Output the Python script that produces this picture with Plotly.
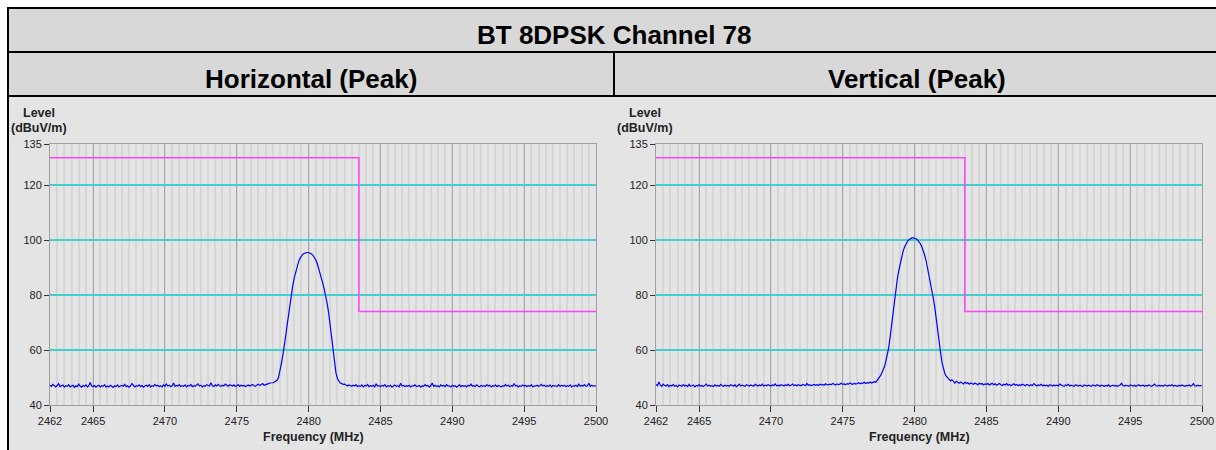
import numpy as np
import plotly.graph_objects as go

# ---------------- data ----------------
title_text = "BT 8DPSK Channel 78"
panel_titles = ["Horizontal (Peak)", "Vertical (Peak)"]

freq_start, freq_stop, freq_step = 2462.0, 2500.0, 0.1
freq = np.round(np.arange(freq_start, freq_stop + 1e-6, freq_step), 1)

x_tickvals = [2462, 2465, 2470, 2475, 2480, 2485, 2490, 2495, 2500]
y_tickvals = [40, 60, 80, 100, 120, 135]

limit_freq = [2462, 2483.5, 2483.5, 2500]
limit_level = [130, 130, 74, 74]

h_level = [
    47.2, 46.8, 47.5, 46.9, 46.6, 47.1, 47.8, 46.7, 46.9, 47.3,
    46.5, 47.0, 46.8, 47.4, 46.6, 46.9, 47.2, 46.4, 47.0, 46.7,
    47.6, 46.9, 46.5, 47.1, 46.8, 47.3, 46.6, 47.0, 48.2, 46.9,
    46.7, 47.1, 46.5, 46.9, 47.2, 46.6, 47.0, 46.8, 47.4, 46.5,
    46.9, 46.6, 47.2, 46.8, 46.4, 47.0, 46.7, 47.3, 46.6, 46.9,
    47.1, 46.8, 47.5, 46.7, 47.0, 46.5, 46.9, 47.8, 47.1, 46.6,
    47.0, 46.8, 47.3, 46.7, 47.1, 46.5, 46.9, 47.2, 46.8, 47.4,
    46.6, 47.0, 46.8, 47.5, 46.9, 47.2, 46.7, 47.0, 46.6, 47.3,
    46.8, 47.6, 46.9, 47.2, 46.7, 47.0, 48.0, 46.8, 47.1, 46.9,
    47.4, 46.7, 47.0, 46.8, 47.3, 46.6, 47.1, 46.9, 47.5, 46.7,
    47.0, 46.8, 47.3, 47.7, 46.9, 47.2, 46.6, 47.0, 46.8, 47.4,
    47.1, 46.9, 48.1, 47.0, 46.7, 47.3, 46.9, 47.5, 47.0, 46.8,
    47.2, 46.9, 47.6, 47.0, 46.8, 47.4, 47.1, 46.9, 47.3, 46.7,
    47.0, 47.4, 46.8, 47.2, 46.9, 47.1, 46.7, 47.0, 47.3, 46.9,
    47.1, 47.5, 47.0, 46.8, 47.3, 47.6, 47.1, 47.4, 47.8, 47.2,
    47.5, 47.6, 47.8, 48.0, 48.0, 48.1, 48.3, 48.6, 49.0, 50.0,
    52.0, 55.0, 58.0, 61.0, 65.0, 69.0, 73.0, 77.0, 80.5, 83.6,
    86.3, 88.6, 90.6, 92.2, 93.4, 94.3, 94.9, 95.2, 95.4, 95.5,
    95.5, 95.3, 95.0, 94.5, 93.8, 92.8, 91.5, 89.8, 88.0, 86.0,
    84.0, 81.8, 79.4, 76.6, 73.2, 69.2, 64.6, 59.8, 55.2, 51.8,
    49.6, 48.5, 48.0, 47.8, 47.5, 47.6, 47.2, 46.9, 47.3, 47.0,
    46.8, 47.2, 46.9, 47.4, 46.7, 47.0, 46.8, 47.3, 46.6, 47.1,
    46.9, 47.5, 46.7, 47.0, 46.8, 47.2, 46.6, 47.7, 46.9, 47.0,
    46.7, 47.1, 46.9, 47.4, 46.6, 47.0, 46.8, 47.2, 46.5, 46.9,
    47.3, 46.8, 47.0, 46.6, 47.9, 46.9, 47.1, 46.7, 47.0, 46.8,
    47.2, 46.6, 47.0, 46.9, 47.3, 46.7, 46.9, 47.1, 46.5, 47.0,
    46.8, 47.4, 46.9, 47.1, 46.6, 47.0, 48.0, 46.8, 47.2, 46.7,
    47.0, 46.6, 47.3, 46.9, 47.1, 46.7, 47.4, 46.9, 47.0, 46.6,
    47.2, 46.8, 47.0, 46.5, 46.9, 47.3, 46.7, 47.1, 46.8, 47.0,
    46.6, 47.2, 46.9, 47.6, 46.8, 47.0, 46.7, 47.3, 46.9, 46.6,
    47.1, 46.8, 47.0, 46.7, 47.4, 46.9, 47.2, 46.6, 47.0, 46.8,
    47.3, 46.7, 47.1, 46.9, 46.6, 47.0, 46.8, 47.5, 46.9, 47.2,
    46.7, 47.0, 46.8, 47.8, 46.9, 47.1, 46.6, 47.0, 46.8, 47.3,
    46.9, 47.1, 46.7, 47.0, 46.8, 47.4, 46.6, 47.0, 46.9, 47.2,
    46.8, 47.0, 47.5, 46.9, 47.2, 46.7, 47.0, 46.8, 47.3, 46.6,
    47.1, 46.9, 47.0, 46.7, 47.4, 46.8, 47.1, 46.9, 47.2, 46.7,
    47.0, 46.8, 47.3, 46.6, 47.0, 46.9, 47.2, 46.7, 47.6, 46.8,
    47.1, 46.9, 47.4, 46.8, 47.0, 47.9, 46.8, 47.2, 46.9, 47.0,
    46.9,
]

v_level = [
    47.5, 47.0, 48.4, 47.2, 46.8, 47.6, 47.1, 46.9, 47.4, 46.7,
    47.2, 46.9, 47.5, 46.8, 47.1, 46.6, 47.3, 47.0, 46.8, 47.4,
    46.9, 47.2, 46.7, 47.5, 46.8, 47.0, 47.3, 46.6, 47.1, 46.9,
    47.4, 46.8, 47.1, 46.7, 47.0, 47.6, 46.9, 47.2, 46.8, 47.0,
    46.7, 47.3, 46.9, 47.1, 46.8, 47.5, 47.0, 46.8, 47.2, 46.9,
    47.1, 46.8, 47.4, 47.0, 46.9, 47.3, 46.7, 47.1, 47.6, 46.9,
    47.2, 47.0, 46.8, 47.4, 47.1, 46.9, 47.3, 47.0, 46.8, 47.5,
    47.1, 46.9, 47.3, 47.0, 47.6, 46.9, 47.2, 47.0, 47.4, 47.1,
    46.9, 47.3, 47.1, 47.7, 47.0, 47.2, 46.9, 47.4, 47.1, 47.0,
    47.3, 47.1, 47.5, 47.0, 47.2, 47.6, 47.1, 47.3, 47.0, 47.4,
    47.2, 47.0, 47.5, 47.3, 47.1, 47.8, 47.2, 47.4, 47.0, 47.3,
    47.5, 47.2, 47.4, 47.1, 47.6, 47.3, 47.5, 47.2, 47.7, 47.4,
    47.3, 47.6, 47.4, 47.8, 47.5, 47.3, 47.7, 47.4, 47.6, 47.9,
    47.5, 47.7, 47.4, 47.8, 47.6, 48.0, 47.7, 47.5, 47.9, 47.6,
    47.8, 48.1, 47.7, 48.0, 47.9, 48.3, 47.8, 48.1, 48.0, 48.4,
    48.0, 48.2, 48.5, 48.3, 49.0, 49.6, 50.5, 51.5, 52.5, 54.0,
    56.0, 58.5, 61.0, 65.0, 69.5, 74.0, 78.5, 82.5, 86.0, 89.0,
    91.8, 94.0, 96.0, 97.5, 98.7, 99.6, 100.2, 100.6, 100.8, 100.8,
    100.7, 100.5, 100.1, 99.5, 98.7, 97.6, 96.2, 94.5, 92.5, 90.0,
    87.5, 84.7, 81.8, 78.8, 75.6, 72.0, 68.0, 63.6, 59.3, 55.6,
    53.0, 51.5, 50.5, 49.8, 49.5, 48.8, 49.2, 48.5, 48.0, 48.6,
    48.2, 47.9, 48.4, 48.0, 47.7, 48.3, 47.9, 48.1, 47.6, 48.0,
    47.8, 47.5, 48.0, 47.7, 47.4, 47.9, 47.6, 47.8, 47.3, 47.7,
    47.5, 47.8, 47.3, 47.6, 47.9, 47.4, 47.7, 47.2, 47.5, 47.8,
    47.4, 47.1, 47.6, 47.3, 47.8, 47.2, 47.5, 47.0, 47.4, 47.7,
    47.2, 47.5, 47.0, 47.4, 47.1, 47.6, 47.3, 47.0, 47.5, 47.2,
    47.0, 47.4, 47.1, 47.8, 47.2, 46.9, 47.3, 47.1, 47.5, 47.0,
    47.3, 47.0, 47.2, 46.8, 47.4, 47.1, 46.9, 47.3, 47.0, 47.2,
    46.9, 47.6, 47.2, 47.0, 46.8, 47.3, 47.1, 47.5, 46.9, 47.2,
    47.0, 46.8, 47.4, 47.1, 46.9, 47.2, 47.0, 46.7, 47.3, 47.1,
    46.9, 47.2, 47.0, 46.8, 47.3, 47.1, 46.9, 47.4, 47.0, 46.8,
    47.2, 47.0, 46.8, 47.1, 46.9, 47.3, 46.7, 47.0, 47.2, 46.9,
    47.1, 46.8, 47.0, 47.3, 47.9, 47.1, 46.9, 47.2, 47.0, 46.8,
    47.3, 47.0, 46.9, 47.2, 46.8, 47.1, 47.4, 46.9, 47.0, 47.2,
    46.8, 47.1, 46.9, 47.3, 47.0, 46.8, 47.2, 47.6, 47.0, 46.9,
    47.2, 46.9, 47.1, 46.8, 47.3, 47.0, 46.9, 47.2, 47.0, 47.4,
    46.9, 47.1, 47.0, 46.8, 47.2, 46.9, 47.3, 47.0, 46.8, 47.1,
    47.0, 47.3, 46.9, 47.1, 47.8, 47.0, 46.9, 47.2, 47.0, 47.1,
    47.0,
]

# ---------------- figure ----------------
W, H = 1216, 450
FONT = "Liberation Sans, Arial, sans-serif"
TRACE_BLUE = "#0000ff"
LIMIT_MAGENTA = "#ff40ff"
CYAN = "#40d0d0"

def px(x):
    return x / W

def py(y):
    return 1 - y / H

fig = go.Figure()

series = [h_level, v_level]
x_domains = [[px(50), px(596)], [px(656), px(1202)]]
y_domain = [py(405), py(144)]

for i, (lev, dom) in enumerate(zip(series, x_domains)):
    xa = "x" if i == 0 else "x2"
    ya = "y" if i == 0 else "y2"
    fig.add_trace(go.Scatter(x=limit_freq, y=limit_level, mode="lines",
                             line=dict(color=LIMIT_MAGENTA, width=1.5),
                             xaxis=xa, yaxis=ya, showlegend=False, hoverinfo="skip"))
    fig.add_trace(go.Scatter(x=freq, y=lev, mode="lines",
                             line=dict(color=TRACE_BLUE, width=1.2),
                             xaxis=xa, yaxis=ya, showlegend=False))

axis_font = dict(family=FONT, size=11, color="#222222")
for i, dom in enumerate(x_domains):
    sfx = "" if i == 0 else "2"
    fig.update_layout(**{
        f"xaxis{sfx}": dict(
            domain=dom, range=[freq_start, freq_stop], anchor=f"y{sfx}",
            tickmode="array", tickvals=x_tickvals,
            ticktext=[str(v) for v in x_tickvals],
            ticks="outside", ticklen=6, tickcolor="#333333", tickwidth=1,
            showgrid=True, gridcolor="#a8a8a8", gridwidth=1,
            minor=dict(tickmode="linear", tick0=freq_start, dtick=0.5,
                       showgrid=True, gridcolor="#d6d6d6", gridwidth=2, ticks=""),
            showline=True, linecolor="#a0a0a0", linewidth=1, mirror=True,
            zeroline=False, tickfont=axis_font, fixedrange=True, automargin=False,
        ),
        f"yaxis{sfx}": dict(
            domain=y_domain, range=[40, 135], anchor=f"x{sfx}",
            tickmode="array", tickvals=y_tickvals,
            ticks="outside", ticklen=5, tickcolor="#333333", tickwidth=1,
            showgrid=True, gridcolor=CYAN, gridwidth=1.5,
            showline=True, linecolor="#a0a0a0", linewidth=1, mirror=True,
            zeroline=False, tickfont=axis_font, fixedrange=True, automargin=False,
        ),
    })

# table frame and backgrounds
shapes = [
    dict(type="rect", xref="paper", yref="paper", x0=0, x1=1, y0=0, y1=1,
         fillcolor="#ffffff", line=dict(width=0), layer="below"),
    dict(type="rect", xref="paper", yref="paper", x0=px(8), x1=1, y0=0, y1=py(96),
         fillcolor="#e4e4e4", line=dict(width=0), layer="below"),
    dict(type="rect", xref="paper", yref="paper", x0=px(8), x1=1, y0=py(96), y1=py(8),
         fillcolor="#d8d8d8", line=dict(width=0), layer="below"),
]
border = dict(color="#000000", width=2)
for yy in [8, 52, 96]:
    shapes.append(dict(type="line", xref="paper", yref="paper",
                       x0=px(7), x1=1, y0=py(yy), y1=py(yy), line=border))
shapes.append(dict(type="line", xref="paper", yref="paper",
                   x0=px(8), x1=px(8), y0=0, y1=py(7), line=border))
shapes.append(dict(type="line", xref="paper", yref="paper",
                   x0=px(614), x1=px(614), y0=py(96), y1=py(52), line=border))

title_font = dict(family=FONT, size=26, color="#000000")
label_font = dict(family=FONT, size=12.5, color="#222222")
annotations = [
    dict(text=f"<b>{title_text}</b>", x=px(614), y=py(35), xref="paper", yref="paper",
         showarrow=False, font=title_font, xanchor="center", yanchor="middle"),
    dict(text=f"<b>{panel_titles[0]}</b>", x=px(311), y=py(79), xref="paper", yref="paper",
         showarrow=False, font=title_font, xanchor="center", yanchor="middle"),
    dict(text=f"<b>{panel_titles[1]}</b>", x=px(917), y=py(79), xref="paper", yref="paper",
         showarrow=False, font=title_font, xanchor="center", yanchor="middle"),
]
for lx, fx in [(39, 313), (645, 919)]:
    annotations += [
        dict(text="<b>Level</b>", x=px(lx), y=py(113), xref="paper", yref="paper",
             showarrow=False, font=label_font, xanchor="center", yanchor="middle"),
        dict(text="<b>(dBuV/m)</b>", x=px(lx), y=py(128), xref="paper", yref="paper",
             showarrow=False, font=label_font, xanchor="center", yanchor="middle"),
        dict(text="<b>Frequency (MHz)</b>", x=px(fx), y=py(437), xref="paper", yref="paper",
             showarrow=False, font=label_font, xanchor="center", yanchor="middle"),
    ]

fig.update_layout(
    width=W, height=H, margin=dict(l=0, r=0, t=0, b=0, autoexpand=False),
    paper_bgcolor="#ffffff", plot_bgcolor="#ffffff",
    shapes=shapes, annotations=annotations, showlegend=False,
    font=dict(family=FONT),
)

fig.write_html(
    "out.html",
    config={"displayModeBar": False},
    post_script="document.body.style.margin='0';document.body.style.overflow='hidden';",
)
